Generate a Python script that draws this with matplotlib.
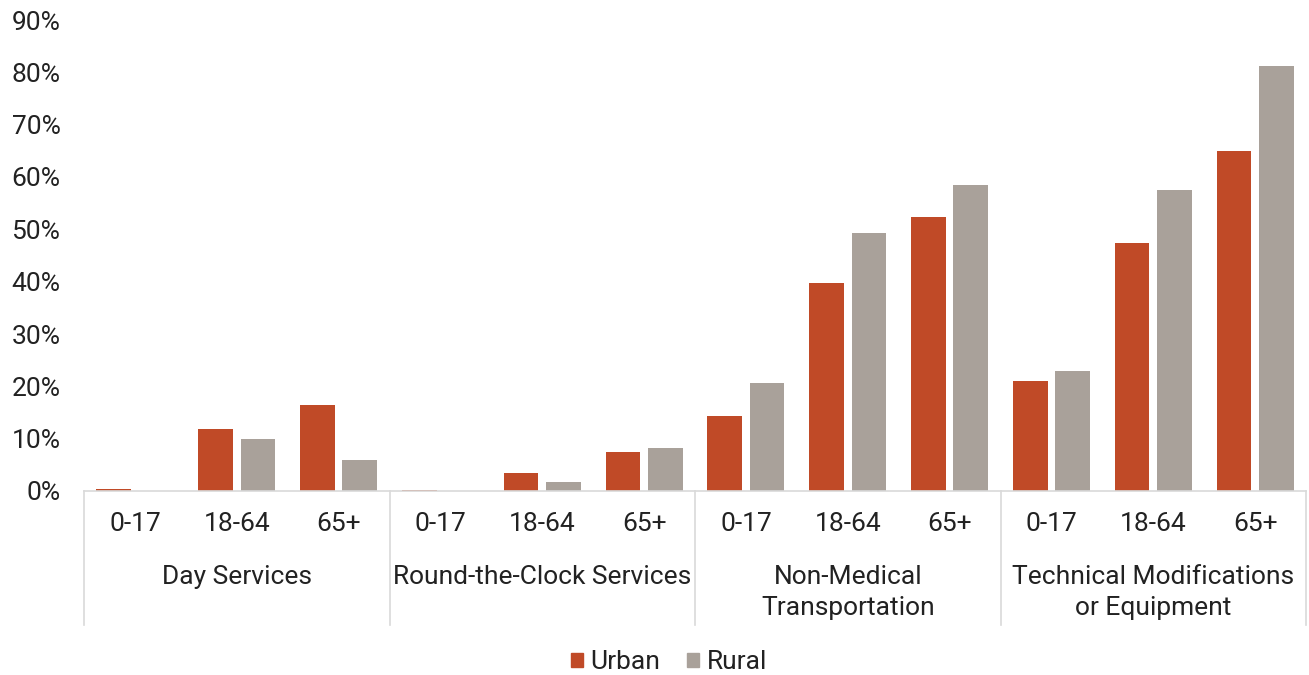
import matplotlib
matplotlib.use("Agg")
import matplotlib.pyplot as plt
import numpy as np
from matplotlib.lines import Line2D
from matplotlib.patches import Patch

plt.rcParams['font.family'] = ['Roboto', 'DejaVu Sans']

groups = ["Day Services", "Round-the-Clock Services", "Non-Medical\nTransportation",
          "Technical Modifications\nor Equipment"]
ages = ["0-17", "18-64", "65+"]
urban = [0.3, 11.9, 16.4, 0.2, 3.4, 7.5, 14.3, 39.8, 52.4, 21.0, 47.4, 65.0]
rural = [0.0, 9.9, 5.9, 0.0, 1.7, 8.2, 20.6, 49.3, 58.5, 22.9, 57.6, 81.3]

c_urban = "#C04A27"
c_rural = "#A9A19A"
tc = "#222222"
FS = 19

W, H = 1309, 675
fig = plt.figure(figsize=(W / 100, H / 100), dpi=100)
ax = fig.add_axes([84 / W, 1 - 491 / H, (1306 - 84) / W, (491 - 20) / H])

n = len(urban)
x = np.arange(n)
bw = 0.34
gap = 0.075
ax.bar(x - (bw + gap) / 2, urban, bw, color=c_urban, label="Urban")
ax.bar(x + (bw + gap) / 2, rural, bw, color=c_rural, label="Rural")

ax.set_xlim(-0.5, n - 0.5)
ax.set_ylim(0, 90)
ax.set_yticks(np.arange(0, 91, 10))
ax.set_yticklabels([f"{v}%" for v in range(0, 91, 10)], fontsize=FS, color=tc)
ax.tick_params(axis="y", length=0, pad=17)
ax.set_xticks([])
for s in ["top", "right", "left"]:
    ax.spines[s].set_visible(False)
ax.spines["bottom"].set_color("#D9D9D9")
ax.spines["bottom"].set_linewidth(1.2)

trans = ax.get_xaxis_transform()
def fy(py):
    # convert figure pixel y to axes fraction
    return (491 - py) / (491 - 20)

for i in range(n):
    ax.text(i, fy(524), ages[i % 3], ha="center", va="center", fontsize=FS,
            color=tc, transform=trans, clip_on=False)
for g in range(4):
    ax.text(3 * g + 1, fy(565), groups[g], ha="center", va="top", fontsize=FS,
            color=tc, transform=trans, clip_on=False, linespacing=1.35)
for g in range(5):
    xx = 3 * g - 0.5
    ax.add_line(Line2D([xx, xx], [0, fy(625)], transform=trans, color="#D9D9D9",
                       lw=1.2, clip_on=False))

handles = [Patch(color=c_urban, label="Urban"), Patch(color=c_rural, label="Rural")]
fig.legend(handles=handles, loc="center", bbox_to_anchor=(669 / W, 1 - 662 / H), ncol=2,
           frameon=False, fontsize=FS, handlelength=0.45, handleheight=0.45,
           handletextpad=0.3, columnspacing=1.0, labelcolor=tc)

fig.savefig("out.png", dpi=100)
